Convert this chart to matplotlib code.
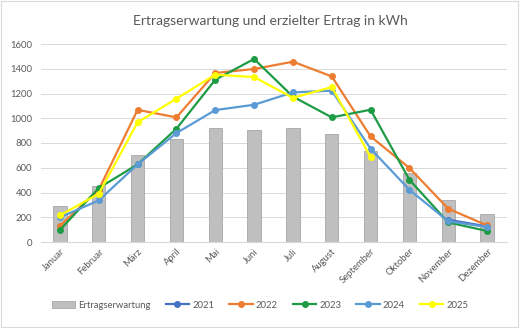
import numpy as np
import matplotlib
matplotlib.use("Agg")
import matplotlib.pyplot as plt
from matplotlib.patches import Rectangle

plt.rcParams["font.family"] = ["Lato", "DejaVu Sans"]

months = ["Januar", "Februar", "März", "April", "Mai", "Juni", "Juli",
          "August", "September", "Oktober", "November", "Dezember"]
expected = [293, 449, 705, 829, 921, 905, 921, 875, 738, 557, 342, 226]

nan = np.nan
y2021 = [nan, nan, nan, nan, nan, nan, nan, nan, nan, nan, 180, 126]
y2022 = [131, 423, 1068, 1007, 1366, 1398, 1457, 1338, 853, 598, 269, 134]
y2023 = [97, 436, 627, 915, 1311, 1479, 1175, 1007, 1069, 503, 158, 89]
y2024 = [199, 336, 627, 880, 1066, 1109, 1209, 1223, 754, 422, 167, 121]
y2025 = [215, 390, 967, 1158, 1352, 1333, 1165, 1252, 687, nan, nan, nan]

series = [("2021", y2021, "#4472C4"), ("2022", y2022, "#ED7D31"),
          ("2023", y2023, "#1E9B45"), ("2024", y2024, "#5B9BD5"),
          ("2025", y2025, "#FFFF00")]

fig = plt.figure(figsize=(5.2, 3.28), dpi=100)
ax = fig.add_axes([40.5 / 520, 1 - 242 / 328, 466 / 520, 198 / 328])

x = np.arange(len(months))
bars = ax.bar(x, expected, width=0.34, color="#BFBFBF", edgecolor="#A6A6A6",
              linewidth=0.6, label="Ertragserwartung", zorder=2)
handles = [bars]
for name, vals, col in series:
    ln, = ax.plot(x, vals, color=col, lw=1.6, marker="o", markersize=4,
                  label=name, zorder=3)
    handles.append(ln)

ax.set_xlim(-0.5, len(months) - 0.5)
ax.set_ylim(0, 1600)
ax.set_yticks(range(0, 1601, 200))
ax.grid(axis="y", color="#D9D9D9", lw=0.7, zorder=0)
for s in ["top", "right", "left"]:
    ax.spines[s].set_visible(False)
ax.spines["bottom"].set_color("#D9D9D9")
ax.tick_params(length=0, labelsize=6.8, colors="#595959")
ax.tick_params(axis="y", pad=6)
ax.set_xticks(x)
ax.set_xticklabels(months, rotation=45, ha="right", rotation_mode="anchor")

fig.suptitle("Ertragserwartung und erzielter Ertrag in kWh", y=0.955,
             x=0.52, fontsize=10, color="#595959")

fig.legend(handles=handles, labels=[h.get_label() for h in handles],
           loc="center", bbox_to_anchor=(0.5, 1 - 305 / 328), ncol=6,
           frameon=False, fontsize=6.8, handlelength=2.5, columnspacing=1.6,
           handletextpad=0.3, labelcolor="#595959")

fig.patches.append(Rectangle((0.002, 0.003), 0.994, 0.993,
                             transform=fig.transFigure, fill=False,
                             edgecolor="#D9D9D9", lw=0.8))

fig.savefig("out.png", dpi=100)
